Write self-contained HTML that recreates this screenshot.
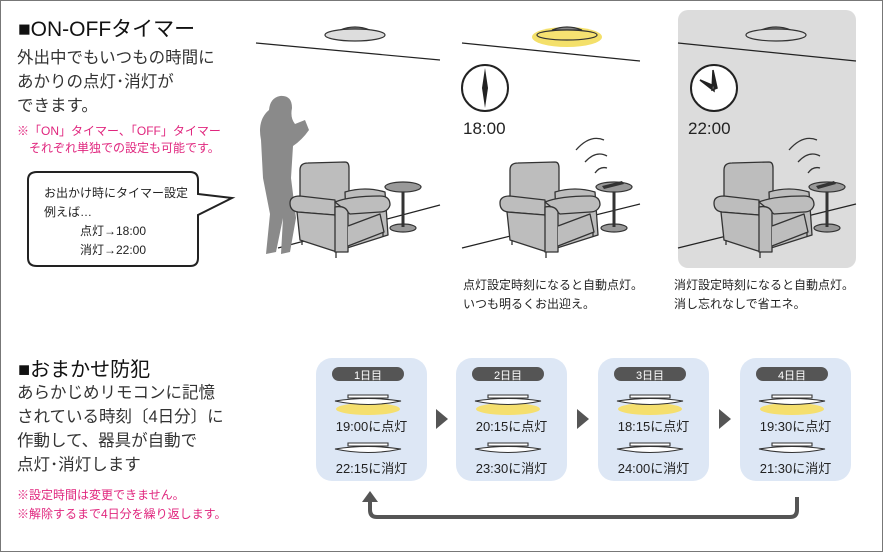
<!DOCTYPE html>
<html><head><meta charset="utf-8"><style>
body{margin:0;width:883px;height:552px;overflow:hidden;background:#fff;font-family:"Liberation Sans","Noto Sans CJK JP",sans-serif;color:#222}
.t{position:absolute;white-space:nowrap}
</style></head><body>
<div style="position:absolute;left:0;top:0;width:881px;height:550px;border:1px solid #777"></div>
<svg width="883" height="552" style="position:absolute;left:0;top:0">
<defs>
<g id="chair" stroke="#333" stroke-width="1.3" fill="#bdbdbd" stroke-linejoin="round">
<path d="M510 170 Q510 163 518 163 L555 162 Q559 162 559 168 L559 205 L510 215 Z"/>
<path d="M555 192 Q575 186 595 192 L598 235 L557 248 Z"/>
<path d="M500 203 Q500 196 510 196 L545 200 L545 215 L508 212 Q500 211 500 203 Z"/>
<path d="M545 202 Q560 196 590 196 Q600 196 600 205 Q598 212 590 212 L560 214 Z"/>
<path d="M507 212 L545 215 L547 252 L510 240 Z"/>
<path d="M545 207 Q555 205 558 212 L558 252 L545 252 Z"/>
<path d="M558 226 L590 214 L594 232 L558 246"/>
<line x1="512" y1="240" x2="512" y2="245"/><line x1="546" y1="252" x2="546" y2="258"/><line x1="593" y1="232" x2="593" y2="237"/>
</g>
<g id="tbl" stroke="#333" stroke-width="1.2">
<ellipse cx="614" cy="228" rx="13" ry="4" fill="#999"/>
<line x1="614" y1="190" x2="614" y2="227" stroke-width="3"/>
<ellipse cx="614" cy="187" rx="18" ry="5" fill="#999"/>
</g>
</defs>
<rect x="678" y="10" width="178" height="258" rx="10" fill="#dcdcdc"/>
<g stroke="#222" stroke-width="1.2">
<line x1="256" y1="43" x2="440" y2="60"/><line x1="462" y1="43" x2="640" y2="61"/><line x1="678" y1="43" x2="856" y2="61"/>
<line x1="278" y1="248" x2="440" y2="205"/><line x1="462" y1="248" x2="640" y2="204"/><line x1="678" y1="248" x2="856" y2="204"/>
</g>
<!-- lamps -->
<g stroke="#333" stroke-width="1.2">
<path d="M340 30 Q355 24 370 30Z" fill="#888"/>
<ellipse cx="355" cy="35" rx="30" ry="6" fill="#ddd"/>
<ellipse cx="567" cy="37" rx="35" ry="10" fill="#f4e06a" stroke="none"/>
<path d="M552 30 Q567 24 582 30Z" fill="#888"/>
<ellipse cx="567" cy="35" rx="30" ry="5" fill="#f6e272"/>
<path d="M761 30 Q776 24 791 30Z" fill="#888"/>
<ellipse cx="776" cy="35" rx="30" ry="6" fill="#ddd"/>
</g>
<!-- person -->
<path d="M280 96 Q292 95 292 108 Q290 118 295 124 L305 120 L309 130 Q302 140 293 146 L291 178 L296 218 L290 252 L281 254 L283 218 L276 252 L266 254 L270 214 L263 178 L261 140 Q257 120 269 110 Q270 98 280 96Z" fill="#8a8a8a"/>
<!-- chairs -->
<use href="#chair" transform="translate(-210,0)"/><use href="#tbl" transform="translate(-211,0)"/>
<use href="#chair"/><use href="#tbl"/>
<use href="#chair" transform="translate(214,0)"/><use href="#tbl" transform="translate(213,0)"/>
<g fill="#333"><path d="M602 186 L622 181 L624 184 L604 189Z"/><path d="M816 186 L834 181 L836 184 L818 189Z"/></g>
<g fill="none" stroke="#333" stroke-width="1.3">
<path d="M595 173 Q600 166 607 168"/><path d="M585 162 Q596 150 607 156"/><path d="M576 150 Q590 134 604 140"/>
<path d="M808 173 Q813 166 820 168"/><path d="M798 162 Q809 150 820 156"/><path d="M789 150 Q803 134 817 140"/>
</g>
<!-- clocks -->
<circle cx="485" cy="88" r="23" fill="#fff" stroke="#222" stroke-width="2"/>
<path d="M485 68 L488 88 L485 108 L482 88Z" fill="#222"/>
<circle cx="714" cy="88" r="23" fill="#fff" stroke="#222" stroke-width="2"/>
<path d="M713 70 L717 88 L712 90Z M714 86 L700 80 L714 91Z" fill="#222" stroke="#222" stroke-width="1.5"/>
<!-- speech bubble -->
<path d="M37 172 L190 172 Q198 172 198 180 L198 194 L232 198 L198 215 L198 258 Q198 266 190 266 L37 266 Q28 266 28 258 L28 180 Q28 172 37 172Z" fill="#fff" stroke="#222" stroke-width="2"/>
<!-- bottom boxes -->
<g fill="#dde7f5">
<rect x="316" y="358" width="111" height="123" rx="16"/><rect x="456" y="358" width="111" height="123" rx="16"/>
<rect x="598" y="358" width="111" height="123" rx="16"/><rect x="740" y="358" width="111" height="123" rx="16"/>
</g>
<g fill="#555">
<rect x="332" y="367" width="72" height="14" rx="7"/><rect x="472" y="367" width="72" height="14" rx="7"/>
<rect x="614" y="367" width="72" height="14" rx="7"/><rect x="756" y="367" width="72" height="14" rx="7"/>
<path d="M436 409 L448 419 L436 429Z"/><path d="M577 409 L589 419 L577 429Z"/><path d="M719 409 L731 419 L719 429Z"/>
</g>
<g id="lp">
<ellipse cx="368" cy="409" rx="32" ry="6" fill="#f5df6e"/>
<path d="M348 395 L388 395 L388 398 L348 398Z M335 401 Q368 396 401 401 Q368 408 335 401Z" fill="#fff" stroke="#333" stroke-width="1.1"/>
<path d="M348 443 L388 443 L388 446 L348 446Z M335 449 Q368 444 401 449 Q368 456 335 449Z" fill="#fff" stroke="#333" stroke-width="1.1"/>
</g>
<use href="#lp" transform="translate(140,0)"/><use href="#lp" transform="translate(282,0)"/><use href="#lp" transform="translate(424,0)"/>
<path d="M797 497 L797 510 Q797 517 790 517 L377 517 Q370 517 370 510 L370 500" fill="none" stroke="#555" stroke-width="4"/>
<path d="M362 502 L370 491 L378 502Z" fill="#555"/>
</svg>
<div class="t" style="left:18px;top:13px;font-size:21px;color:#111">■ON-OFFタイマー</div>
<div class="t" style="left:17px;top:46px;font-size:16.5px;line-height:24px;color:#333">外出中でもいつもの時間に<br>あかりの点灯･消灯が<br>できます。</div>
<div class="t" style="left:17px;top:123px;font-size:12px;line-height:17px;color:#e0267e">※「ON」タイマー、「OFF」タイマー<br>　それぞれ単独での設定も可能です。</div>
<div class="t" style="left:44px;top:184px;font-size:12px;line-height:19px">お出かけ時にタイマー設定<br>例えば…<br>　　　点灯→18:00<br>　　　消灯→22:00</div>
<div class="t" style="left:463px;top:119px;font-size:17px">18:00</div>
<div class="t" style="left:688px;top:119px;font-size:17px">22:00</div>
<div class="t" style="left:463px;top:276px;font-size:12px;line-height:19px">点灯設定時刻になると自動点灯。<br>いつも明るくお出迎え。</div>
<div class="t" style="left:674px;top:276px;font-size:12px;line-height:19px">消灯設定時刻になると自動点灯。<br>消し忘れなしで省エネ。</div>
<div class="t" style="left:18px;top:353px;font-size:20px;color:#111">■おまかせ防犯</div>
<div class="t" style="left:17px;top:381px;font-size:16.5px;line-height:24px;color:#333">あらかじめリモコンに記憶<br>されている時刻〔4日分〕に<br>作動して、器具が自動で<br>点灯･消灯します</div>
<div class="t" style="left:17px;top:486px;font-size:12px;line-height:19px;color:#e0267e">※設定時間は変更できません。<br>※解除するまで4日分を繰り返します。</div>
<div class="t" style="left:332px;top:367px;width:72px;text-align:center;font-size:11px;color:#fff">1日目</div>
<div class="t" style="left:472px;top:367px;width:72px;text-align:center;font-size:11px;color:#fff">2日目</div>
<div class="t" style="left:614px;top:367px;width:72px;text-align:center;font-size:11px;color:#fff">3日目</div>
<div class="t" style="left:756px;top:367px;width:72px;text-align:center;font-size:11px;color:#fff">4日目</div>
<div class="t" style="left:316px;top:416px;width:111px;text-align:center;font-size:13px">19:00に点灯</div>
<div class="t" style="left:316px;top:458px;width:111px;text-align:center;font-size:13px">22:15に消灯</div>
<div class="t" style="left:456px;top:416px;width:111px;text-align:center;font-size:13px">20:15に点灯</div>
<div class="t" style="left:456px;top:458px;width:111px;text-align:center;font-size:13px">23:30に消灯</div>
<div class="t" style="left:598px;top:416px;width:111px;text-align:center;font-size:13px">18:15に点灯</div>
<div class="t" style="left:598px;top:458px;width:111px;text-align:center;font-size:13px">24:00に消灯</div>
<div class="t" style="left:740px;top:416px;width:111px;text-align:center;font-size:13px">19:30に点灯</div>
<div class="t" style="left:740px;top:458px;width:111px;text-align:center;font-size:13px">21:30に消灯</div>
</body></html>
